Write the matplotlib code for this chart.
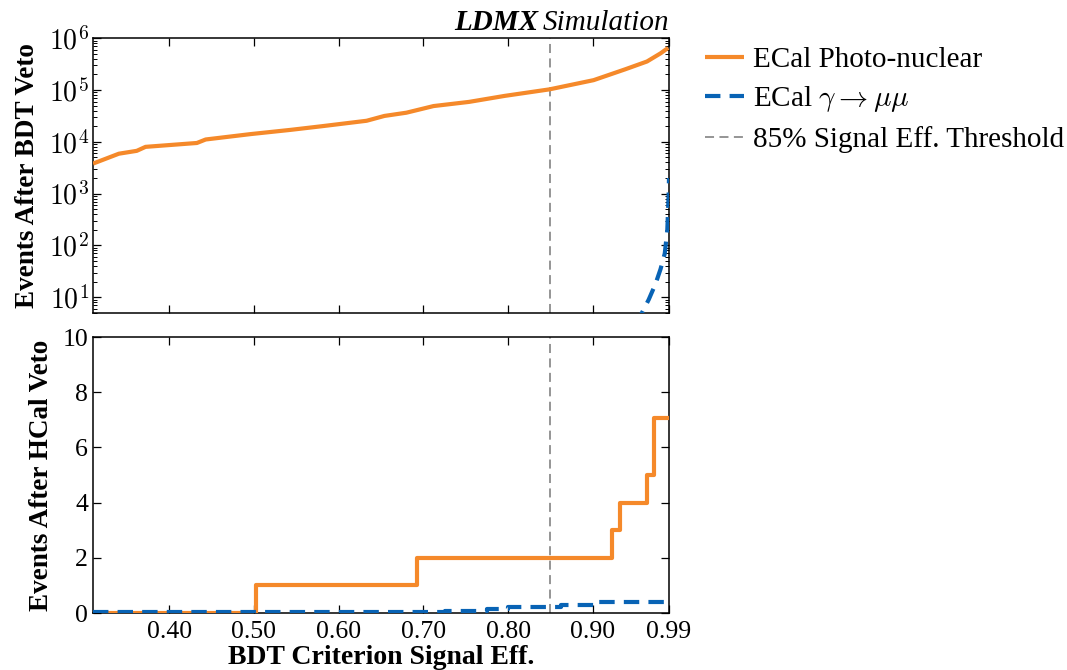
import matplotlib
matplotlib.use("Agg")
import matplotlib.pyplot as plt
import matplotlib.ticker as mticker
import numpy as np

# ---------------- data ----------------
pn_top_x = [0.310, 0.3405, 0.3616, 0.372, 0.4326, 0.443, 0.496, 0.543, 0.580, 0.633,
            0.654, 0.680, 0.712, 0.754, 0.796, 0.849, 0.901, 0.938, 0.964, 0.980, 0.989]
pn_top_y = [3800, 5900, 6700, 8000, 9500, 11100, 14100, 17000, 20000, 25500,
            31600, 36500, 49000, 59000, 77000, 103000, 155000, 250000, 355000, 510000, 650000]

mumu_top_x = [0.950, 0.958, 0.966, 0.974, 0.980, 0.985, 0.988, 0.9895, 0.990]
mumu_top_y = [3.0, 5.0, 9.0, 18.0, 35.0, 70.0, 200.0, 900.0, 2000.0]

pn_bot_x = [0.310, 0.502, 0.693, 0.923, 0.9326, 0.964, 0.9726, 0.990]
pn_bot_y = [0.0, 1.0, 2.0, 3.0, 4.0, 5.0, 7.05, 7.05]

mumu_bot_x = [0.310, 0.725, 0.775, 0.800, 0.862, 0.905, 0.990]
mumu_bot_y = [0.03, 0.08, 0.16, 0.22, 0.28, 0.40, 0.44]

threshold = 0.85
xticks = [0.40, 0.50, 0.60, 0.70, 0.80, 0.90, 0.99]
xticklabels = ["0.40", "0.50", "0.60", "0.70", "0.80", "0.90", "0.99"]
log_ticks = [1e1, 1e2, 1e3, 1e4, 1e5, 1e6]

# ---------------- style ----------------
plt.rcParams['font.family'] = ['Liberation Serif', 'DejaVu Serif']
plt.rcParams['mathtext.fontset'] = 'cm'

orange = '#F5892A'
blue = '#0863B5'
gray = '#8C8C8C'

fig = plt.figure(figsize=(10.67, 6.70), dpi=100)
ax1 = fig.add_axes([0.0872, 0.533, 0.5398, 0.410])
ax2 = fig.add_axes([0.0872, 0.085, 0.5398, 0.412], sharex=ax1)

lw = 3.0
dash = (3.7, 2.2)
l1, = ax1.plot(pn_top_x, pn_top_y, color=orange, lw=lw, solid_capstyle='butt', zorder=3,
               label='ECal Photo-nuclear')
l2, = ax1.plot(mumu_top_x, mumu_top_y, color=blue, lw=lw, dashes=dash, zorder=4,
               label=r'ECal $\gamma\rightarrow\mu\mu$')
l3 = ax1.axvline(threshold, color=gray, lw=1.3, dashes=(5, 3), zorder=2,
                 label='85% Signal Eff. Threshold')
ax1.set_yscale('log')
ax1.set_ylim(5, 1e6)
ax1.yaxis.set_major_locator(mticker.FixedLocator(log_ticks))
ax1.yaxis.set_minor_locator(mticker.LogLocator(base=10, subs=np.arange(2, 10), numticks=20))
ax1.yaxis.set_minor_formatter(mticker.NullFormatter())
ax1.yaxis.set_major_formatter(mticker.FuncFormatter(lambda v, p: r'$10^{%d}$' % round(np.log10(v))))

ax2.step(pn_bot_x, pn_bot_y, where='post', color=orange, lw=lw, zorder=3)
ax2.step(mumu_bot_x, mumu_bot_y, where='post', color=blue, lw=lw, dashes=dash, zorder=4)
ax2.axvline(threshold, color=gray, lw=1.3, dashes=(5, 3), zorder=2)
ax2.set_ylim(0, 10)
ax2.set_yticks([0, 2, 4, 6, 8, 10])

ax1.set_xlim(0.31, 0.99)
ax2.set_xticks(xticks)
ax2.set_xticklabels(xticklabels)
plt.setp(ax1.get_xticklabels(), visible=False)

for ax in (ax1, ax2):
    ax.tick_params(which='both', direction='in', top=True, right=True, labelsize=18.5)
    ax.tick_params(which='major', length=6, width=0.9)
    ax.tick_params(which='minor', length=3, width=0.7)
    for s in ax.spines.values():
        s.set_linewidth(1.1)
ax1.tick_params(axis='y', labelsize=20, pad=3)
ax2.tick_params(axis='x', pad=6)

ax1.set_ylabel('Events After BDT Veto', fontsize=19.5, fontweight='bold', labelpad=6)
ax2.set_ylabel('Events After HCal Veto', fontsize=19.5, fontweight='bold', labelpad=6)
ax2.set_xlabel('BDT Criterion Signal Eff.', fontsize=20, fontweight='bold', labelpad=1)
fig.align_ylabels([ax1, ax2])

t = ax1.text(1.0, 1.008, 'Simulation', transform=ax1.transAxes, ha='right', va='bottom',
             fontsize=21, fontstyle='italic')
fig.canvas.draw()
bb = t.get_window_extent().transformed(ax1.transAxes.inverted())
ax1.text(bb.x0 - 0.008, 1.008, 'LDMX', transform=ax1.transAxes, ha='right', va='bottom',
         fontsize=21, fontweight='bold', fontstyle='italic')

fig.legend(handles=[l1, l2, l3], loc='upper left', bbox_to_anchor=(0.636, 0.970),
           frameon=False, fontsize=21, handlelength=1.35, handletextpad=0.3,
           labelspacing=0.4)

fig.savefig('out.png', dpi=100)
